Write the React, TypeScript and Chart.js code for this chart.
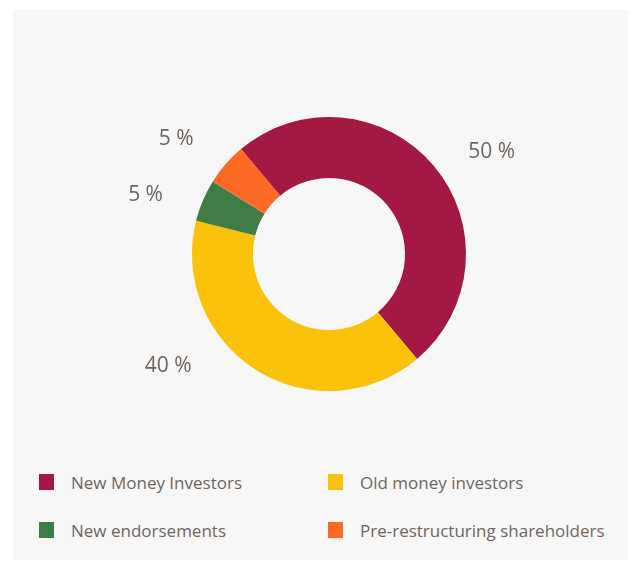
import React, { useEffect, useRef } from "react";
import { Chart, registerables } from "chart.js";

Chart.register(...registerables);

const categories = ["New Money Investors", "Old money investors", "New endorsements", "Pre-restructuring shareholders"];
const values = [50, 40, 5, 5];
const valueLabels = ["50 %", "40 %", "5 %", "5 %"];
const colors = ["#a31942", "#fbc20b", "#3f7d45", "#fd6a24"];
// angular nudge (degrees) of each outside label relative to its slice middle
const labelAngleShift = [7, 24, -4, -3];

const TEXT_COLOR = "#6f6660";
const FONT = "'Open Sans', 'Noto Sans', sans-serif";

const outsideLabels = {
  id: "outsideLabels",
  afterDatasetsDraw(chart: any) {
    const ctx = chart.ctx;
    const meta = chart.getDatasetMeta(0);
    ctx.save();
    ctx.font = `21px ${FONT}`;
    ctx.fillStyle = TEXT_COLOR;
    ctx.textAlign = "center";
    ctx.textBaseline = "middle";
    meta.data.forEach((arc: any, i: number) => {
      const { x, y, startAngle, endAngle, outerRadius } = arc.getProps(["x", "y", "startAngle", "endAngle", "outerRadius"], true);
      const mid = (startAngle + endAngle) / 2 + (labelAngleShift[i] * Math.PI) / 180;
      const r = outerRadius + 57;
      ctx.fillText(valueLabels[i], x + Math.cos(mid) * r, y + Math.sin(mid) * r + 4);
    });
    ctx.restore();
  },
};

export default function App() {
  const ref = useRef<HTMLCanvasElement | null>(null);
  useEffect(() => {
    if (!ref.current) return;
    const chart = new Chart(ref.current, {
      type: "doughnut",
      data: {
        labels: categories,
        datasets: [
          {
            data: values,
            backgroundColor: colors,
            borderWidth: 0,
          },
        ],
      },
      options: {
        animation: false,
        responsive: false,
        maintainAspectRatio: false,
        rotation: -40,
        cutout: "55.5%",
        layout: { padding: { left: 179, right: 162, top: 107, bottom: 59 } },
        plugins: {
          legend: { display: false },
          tooltip: { enabled: false },
        },
      },
      plugins: [outsideLabels],
    });
    return () => chart.destroy();
  }, []);

  const legendItem = (i: number, left: number, top: number) => (
    <div key={i} style={{ position: "absolute", left, top, display: "flex", alignItems: "center", height: 20 }}>
      <div style={{ width: 15, height: 16, background: colors[i], marginRight: 17 }} />
      <span style={{ fontFamily: FONT, fontSize: 17, color: TEXT_COLOR, whiteSpace: "nowrap" }}>{categories[i]}</span>
    </div>
  );

  return (
    <div
      style={{
        position: "absolute",
        left: 13,
        top: 10,
        width: 615,
        height: 550,
        background: "#f7f7f7",
      }}
    >
      <canvas ref={ref} width={615} height={440} style={{ display: "block", width: 615, height: 440 }} />
      {legendItem(0, 26, 462)}
      {legendItem(1, 315, 462)}
      {legendItem(2, 26, 510)}
      {legendItem(3, 315, 510)}
    </div>
  );
}
